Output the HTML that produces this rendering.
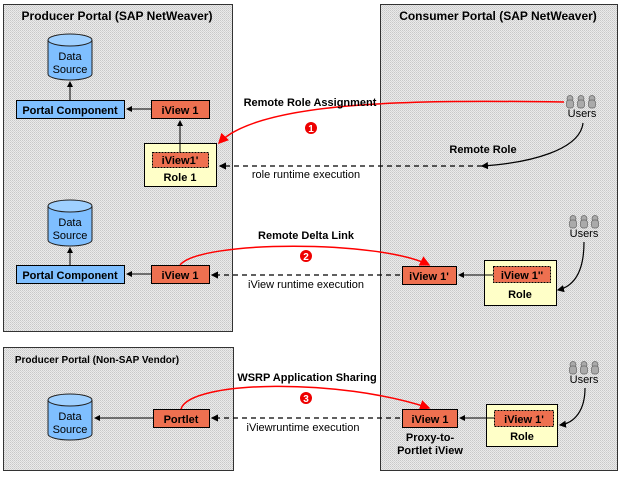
<!DOCTYPE html>
<html><head><meta charset="utf-8"><style>
body{margin:0;background:#fff}
svg{display:block}
text{font-family:"Liberation Sans",Arial,sans-serif;font-size:11px}
.b{font-weight:bold}
</style></head><body>
<svg width="624" height="481" viewBox="0 0 624 481" xmlns="http://www.w3.org/2000/svg">
<defs>
<pattern id="h" width="2" height="2" patternUnits="userSpaceOnUse"><rect width="2" height="2" fill="#eaeaea"/><rect width="1" height="1" fill="#c8c8c8"/><rect x="1" y="1" width="1" height="1" fill="#d4d4d4"/></pattern>
<marker id="ak" markerWidth="6" markerHeight="6" refX="5" refY="3" orient="auto"><path d="M0,0 L6,3 L0,6z" fill="#000"/></marker>
<marker id="ar" markerWidth="7" markerHeight="7" refX="6" refY="3.5" orient="auto"><path d="M0,0 L7,3.5 L0,7z" fill="#f00"/></marker>
<g id="cyl"><path d="M0,6 v34 a22,6 0 0 0 44,0 v-34" fill="#7fbfff" stroke="#222"/><ellipse cx="22" cy="6" rx="22" ry="6" fill="#9fd0ff" stroke="#222"/></g>
<g id="usr" fill="#aaa" stroke="#666" stroke-width="0.7"><circle cx="4" cy="3.5" r="3"/><rect x="0.5" y="5" width="7" height="8" rx="2.5"/><circle cx="15" cy="3.5" r="3"/><rect x="11.5" y="5" width="7" height="8" rx="2.5"/><circle cx="26" cy="3.5" r="3"/><rect x="22.5" y="5" width="7" height="8" rx="2.5"/></g>
</defs>
<rect x="3.5" y="4.5" width="229" height="327" fill="url(#h)" stroke="#333"/>
<rect x="380.5" y="4.5" width="237" height="466" fill="url(#h)" stroke="#333"/>
<rect x="3.5" y="347.5" width="230" height="123" fill="url(#h)" stroke="#333"/>
<text x="117" y="20" text-anchor="middle" class="b" style="font-size:12px">Producer Portal (SAP NetWeaver)</text>
<text x="498" y="20" text-anchor="middle" class="b" style="font-size:12px">Consumer Portal (SAP NetWeaver)</text>
<text x="97" y="363" text-anchor="middle" class="b" style="font-size:10px">Producer Portal (Non-SAP Vendor)</text>

<use href="#cyl" x="48" y="34"/>
<text x="70" y="60" text-anchor="middle">Data</text><text x="70" y="73" text-anchor="middle">Source</text>
<rect x="16.5" y="100.5" width="108" height="18" fill="#7fbfff" stroke="#000"/>
<text x="70" y="114" text-anchor="middle" class="b">Portal Component</text>
<rect x="151.5" y="100.5" width="58" height="18" fill="#ee7050" stroke="#000"/>
<text x="180" y="114" text-anchor="middle" class="b">iView 1</text>
<line x1="70" y1="100" x2="70" y2="82" stroke="#000" marker-end="url(#ak)"/>
<line x1="151" y1="109" x2="127" y2="109" stroke="#000" marker-end="url(#ak)"/>
<rect x="144.5" y="143.5" width="72" height="43" fill="#ffffc8" stroke="#000"/>
<rect x="152.5" y="152.5" width="56" height="15" fill="#ee7050" stroke="#000" stroke-dasharray="2,1"/>
<text x="180" y="164" text-anchor="middle" class="b">iView1'</text>
<text x="180" y="181" text-anchor="middle" class="b">Role 1</text>
<line x1="180" y1="152" x2="180" y2="121" stroke="#000" marker-end="url(#ak)"/>
<path d="M564,102 C420,100 260,100 219,143" fill="none" stroke="#f00" stroke-width="1.5" marker-end="url(#ar)"/>
<text x="310" y="106" text-anchor="middle" class="b">Remote Role Assignment</text>
<circle cx="311" cy="128" r="6" fill="#e00"/><text x="311" y="132" text-anchor="middle" fill="#fff" class="b" style="font-size:10px">1</text>
<use href="#usr" x="566" y="95"/>
<text x="582" y="117" text-anchor="middle">Users</text>
<path d="M583,123 C580,150 530,163 482,166" fill="none" stroke="#000" stroke-width="1.2" marker-end="url(#ak)"/>
<text x="483" y="153" text-anchor="middle" class="b">Remote Role</text>
<line x1="482" y1="166" x2="220" y2="166" stroke="#000" stroke-width="1.2" stroke-dasharray="5,4" marker-end="url(#ak)"/>
<text x="306" y="178" text-anchor="middle">role runtime execution</text>

<use href="#cyl" x="48" y="200"/>
<text x="70" y="226" text-anchor="middle">Data</text><text x="70" y="239" text-anchor="middle">Source</text>
<rect x="16.5" y="265.5" width="108" height="18" fill="#7fbfff" stroke="#000"/>
<text x="70" y="279" text-anchor="middle" class="b">Portal Component</text>
<rect x="151.5" y="265.5" width="58" height="18" fill="#ee7050" stroke="#000"/>
<text x="180" y="279" text-anchor="middle" class="b">iView 1</text>
<line x1="70" y1="265" x2="70" y2="248" stroke="#000" marker-end="url(#ak)"/>
<line x1="151" y1="274" x2="127" y2="274" stroke="#000" marker-end="url(#ak)"/>
<path d="M180,265 C200,240 380,240 429,265" fill="none" stroke="#f00" stroke-width="1.5" marker-end="url(#ar)"/>
<text x="306" y="239" text-anchor="middle" class="b">Remote Delta Link</text>
<circle cx="306" cy="256" r="6" fill="#e00"/><text x="306" y="260" text-anchor="middle" fill="#fff" class="b" style="font-size:10px">2</text>
<line x1="400" y1="275" x2="212" y2="275" stroke="#000" stroke-width="1.2" stroke-dasharray="5,4" marker-end="url(#ak)"/>
<text x="306" y="288" text-anchor="middle">iView runtime execution</text>
<rect x="402.5" y="266.5" width="54" height="18" fill="#ee7050" stroke="#000"/>
<text x="429" y="280" text-anchor="middle" class="b">iView 1'</text>
<rect x="484.5" y="260.5" width="72" height="45" fill="#ffffc8" stroke="#000"/>
<rect x="493.5" y="266.5" width="57" height="16" fill="#ee7050" stroke="#000" stroke-dasharray="2,1"/>
<text x="522" y="279" text-anchor="middle" class="b">iView 1''</text>
<text x="520" y="298" text-anchor="middle" class="b">Role</text>
<line x1="493" y1="275" x2="459" y2="275" stroke="#000" marker-end="url(#ak)"/>
<use href="#usr" x="569" y="215"/>
<text x="584" y="237" text-anchor="middle">Users</text>
<path d="M584,242 C584,270 575,286 558,290" fill="none" stroke="#000" stroke-width="1.2" marker-end="url(#ak)"/>

<use href="#cyl" x="48" y="394" />
<text x="70" y="420" text-anchor="middle">Data</text><text x="70" y="433" text-anchor="middle">Source</text>
<rect x="153.5" y="409.5" width="56" height="18" fill="#ee7050" stroke="#000"/>
<text x="181" y="423" text-anchor="middle" class="b">Portlet</text>
<line x1="153" y1="418" x2="95" y2="418" stroke="#000" marker-end="url(#ak)"/>
<path d="M181,409 C190,380 340,378 429,408" fill="none" stroke="#f00" stroke-width="1.5" marker-end="url(#ar)"/>
<text x="307" y="381" text-anchor="middle" class="b">WSRP  Application Sharing</text>
<circle cx="306" cy="398" r="6" fill="#e00"/><text x="306" y="402" text-anchor="middle" fill="#fff" class="b" style="font-size:10px">3</text>
<line x1="400" y1="418" x2="212" y2="418" stroke="#000" stroke-width="1.2" stroke-dasharray="5,4" marker-end="url(#ak)"/>
<text x="303" y="431" text-anchor="middle">iViewruntime execution</text>
<rect x="402.5" y="409.5" width="55" height="18" fill="#ee7050" stroke="#000"/>
<text x="430" y="423" text-anchor="middle" class="b">iView 1</text>
<text x="430" y="441" text-anchor="middle" class="b">Proxy-to-</text>
<text x="430" y="454" text-anchor="middle" class="b">Portlet iView</text>
<rect x="486.5" y="404.5" width="71" height="42" fill="#ffffc8" stroke="#000"/>
<rect x="494.5" y="410.5" width="59" height="16" fill="#ee7050" stroke="#000" stroke-dasharray="2,1"/>
<text x="524" y="423" text-anchor="middle" class="b">iView 1'</text>
<text x="522" y="440" text-anchor="middle" class="b">Role</text>
<line x1="494" y1="418" x2="460" y2="418" stroke="#000" marker-end="url(#ak)"/>
<use href="#usr" x="569" y="361"/>
<text x="584" y="383" text-anchor="middle">Users</text>
<path d="M585,388 C585,410 575,423 560,425" fill="none" stroke="#000" stroke-width="1.2" marker-end="url(#ak)"/>
</svg>
</body></html>
